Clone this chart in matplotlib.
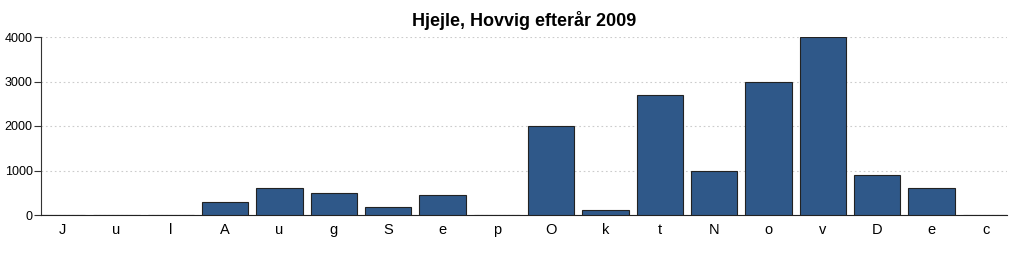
import matplotlib
matplotlib.use('Agg')
from matplotlib import pyplot as plt

labels = list('JulAugSepOktNovDec')
values = [0, 0, 0, 300, 600, 500, 180, 460, 0, 2000, 120, 2700, 1000, 3000, 4000, 900, 600, 0]
yticks = [0, 1000, 2000, 3000, 4000]

plt.rcParams['font.family'] = ['Liberation Sans', 'DejaVu Sans']

fig = plt.figure(figsize=(10.24, 2.56), dpi=100)
ax = fig.add_axes([41 / 1024, 41 / 256, 966 / 1024, 178 / 256])

x = list(range(len(labels)))
ax.bar(x, values, width=0.85, color='#2f5889', edgecolor='#222222', linewidth=0.8, zorder=3)

ax.set_xlim(-0.39, len(labels) - 0.61)
ax.set_ylim(0, 4000)
ax.set_yticks(yticks)
ax.set_xticks(x)
ax.set_xticklabels(labels, fontsize=10.5)
ax.tick_params(axis='y', labelsize=9, length=5, width=0.8, color='#333333', pad=1)
ax.tick_params(axis='x', length=0, pad=6)
ax.yaxis.grid(True, linestyle=(0, (1.5, 2.5)), color='#cccccc', linewidth=0.8, zorder=0)

for s in ['top', 'right']:
    ax.spines[s].set_visible(False)
ax.spines['left'].set_color('#333333')
ax.spines['bottom'].set_color('#222222')

fig.text(524 / 1024, 1 - 20 / 256, 'Hjejle, Hovvig efterår 2009', ha='center', va='center',
         fontsize=13, fontweight='bold')

fig.savefig('out.png', dpi=100)
